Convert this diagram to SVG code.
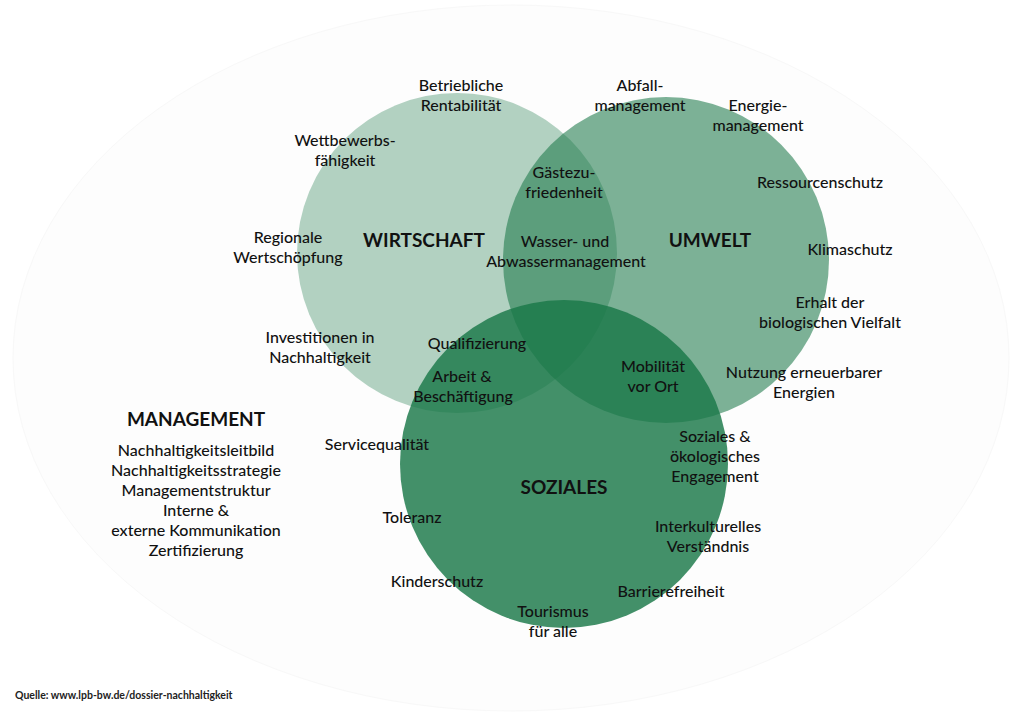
<svg xmlns="http://www.w3.org/2000/svg" width="1024" height="717" viewBox="0 0 1024 717">
<style>
text{font-family:Lato,"Source Sans Pro","Open Sans",sans-serif;fill:#111111;text-anchor:middle;font-size:16px;font-weight:500}
.t{font-weight:bold;font-size:19px}
.src{font-size:10.5px;text-anchor:start;font-weight:bold;fill:#222}
.c{fill:#1a7848}
</style>
<rect width="1024" height="717" fill="#ffffff"/>
<ellipse cx="511" cy="358" rx="498" ry="353" fill="#fdfdfd" stroke="#f8f8f8" stroke-width="1"/>
<g id="circles">
<circle id="c-wirtschaft" class="c" cx="457" cy="253" r="160" fill-opacity="0.33"/>
<circle id="c-umwelt" class="c" cx="666" cy="260" r="163" fill-opacity="0.57"/>
<circle id="c-soziales" class="c" cx="564" cy="464" r="164" fill-opacity="0.82"/>
</g>
<g id="wirtschaft">
<text class="t" x="424" y="247">WIRTSCHAFT</text>
<text x="461" y="91">Betriebliche</text><text x="461" y="111">Rentabilität</text>
<text x="345" y="146">Wettbewerbs-</text><text x="345" y="166">fähigkeit</text>
<text x="288" y="243">Regionale</text><text x="288" y="263">Wertschöpfung</text>
<text x="320" y="343">Investitionen in</text><text x="320" y="363">Nachhaltigkeit</text>
</g>
<g id="umwelt">
<text class="t" x="710" y="247">UMWELT</text>
<text x="640" y="91">Abfall-</text><text x="640" y="111">management</text>
<text x="758" y="111">Energie-</text><text x="758" y="131">management</text>
<text x="820" y="188">Ressourcenschutz</text>
<text x="850" y="255">Klimaschutz</text>
<text x="830" y="308">Erhalt der</text><text x="830" y="328">biologischen Vielfalt</text>
<text x="804" y="378">Nutzung erneuerbarer</text><text x="804" y="398">Energien</text>
</g>
<g id="wirtschaft-umwelt">
<text x="564" y="178">Gästezu-</text><text x="564" y="198">friedenheit</text>
<text x="565" y="247">Wasser- und</text><text x="566" y="267">Abwassermanagement</text>
</g>
<g id="wirtschaft-soziales">
<text x="477" y="349">Qualifizierung</text>
<text x="462" y="382">Arbeit &amp;</text><text x="463" y="402">Beschäftigung</text>
</g>
<g id="umwelt-soziales">
<text x="653" y="372">Mobilität</text><text x="653" y="392">vor Ort</text>
</g>
<g id="soziales">
<text class="t" x="564" y="494">SOZIALES</text>
<text x="377" y="450">Servicequalität</text>
<text x="412" y="523">Toleranz</text>
<text x="437" y="587">Kinderschutz</text>
<text x="715" y="442">Soziales &amp;</text><text x="715" y="462">ökologisches</text><text x="715" y="482">Engagement</text>
<text x="708" y="532">Interkulturelles</text><text x="708" y="552">Verständnis</text>
<text x="671" y="597">Barrierefreiheit</text>
<text x="553" y="617">Tourismus</text><text x="553" y="637">für alle</text>
</g>
<g id="management">
<text class="t" x="196" y="426">MANAGEMENT</text>
<text x="196" y="456">Nachhaltigkeitsleitbild</text>
<text x="196" y="476">Nachhaltigkeitsstrategie</text>
<text x="196" y="496">Managementstruktur</text>
<text x="196" y="516">Interne &amp;</text>
<text x="196" y="536">externe Kommunikation</text>
<text x="196" y="556">Zertifizierung</text>
</g>
<g id="source">
<text class="src" x="15" y="699">Quelle: www.lpb-bw.de/dossier-nachhaltigkeit</text>
</g>
</svg>
